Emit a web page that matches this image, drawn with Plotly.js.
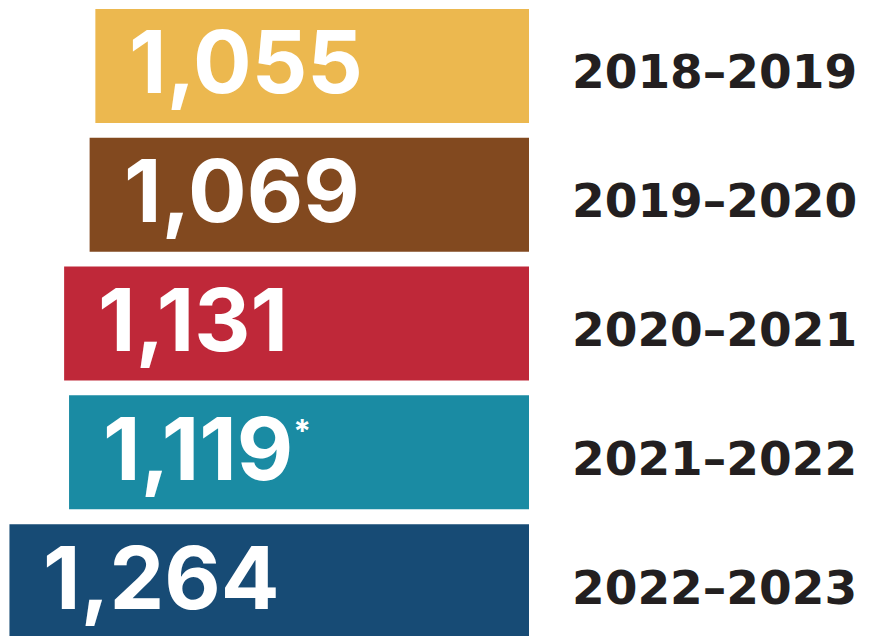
<!DOCTYPE html>
<html>
<head>
<meta charset="utf-8">
<script src="https://cdn.plot.ly/plotly-3.0.1.min.js"></script>
<style>html,body{margin:0;padding:0;background:#fff;}#chart{width:869px;height:636px;}</style>
</head>
<body>
<div id="chart"></div>
<script>
const periods = ['2018–2019', '2019–2020', '2020–2021', '2021–2022', '2022–2023'];
const students = [1055, 1069, 1131, 1119, 1264];
const valueLabels = ['1,055', '1,069', '1,131', '1,119<sup><span style="font-size:32px">*</span></sup>', '1,264'];
const barColors = ['#ECB84F', '#82491F', '#BF2839', '#1A8BA3', '#174B75'];

const trace = {
  type: 'bar',
  orientation: 'h',
  y: periods,
  x: students,
  width: 0.885,
  marker: { color: barColors, line: { width: 0 } },
  hoverinfo: 'none',
  textposition: 'none'
};

const annotations = [];
periods.forEach((p, i) => {
  annotations.push({
    x: students[i], y: p, xref: 'x', yref: 'y',
    text: valueLabels[i], showarrow: false,
    xanchor: 'left', yanchor: 'middle', xshift: 32, yshift: 4,
    font: { family: 'Inter', size: 87, weight: 700, color: '#ffffff' }
  });
  annotations.push({
    x: 1.35, y: p, xref: 'paper', yref: 'y',
    text: p, showarrow: false,
    xanchor: 'center', yanchor: 'middle', yshift: -6,
    font: { family: 'DejaVu Sans', size: 47, weight: 700, color: '#231F20' }
  });
});

const layout = {
  width: 869, height: 636,
  margin: { l: 0, r: 340, t: 0, b: 0, pad: 0 },
  paper_bgcolor: '#ffffff', plot_bgcolor: '#ffffff',
  showlegend: false,
  xaxis: { range: [1287, 0], visible: false, fixedrange: true },
  yaxis: { type: 'category', range: [4.426, -0.512], visible: false, fixedrange: true },
  annotations: annotations
};

Plotly.newPlot('chart', [trace], layout, { displayModeBar: false, staticPlot: true });
</script>
</body>
</html>
